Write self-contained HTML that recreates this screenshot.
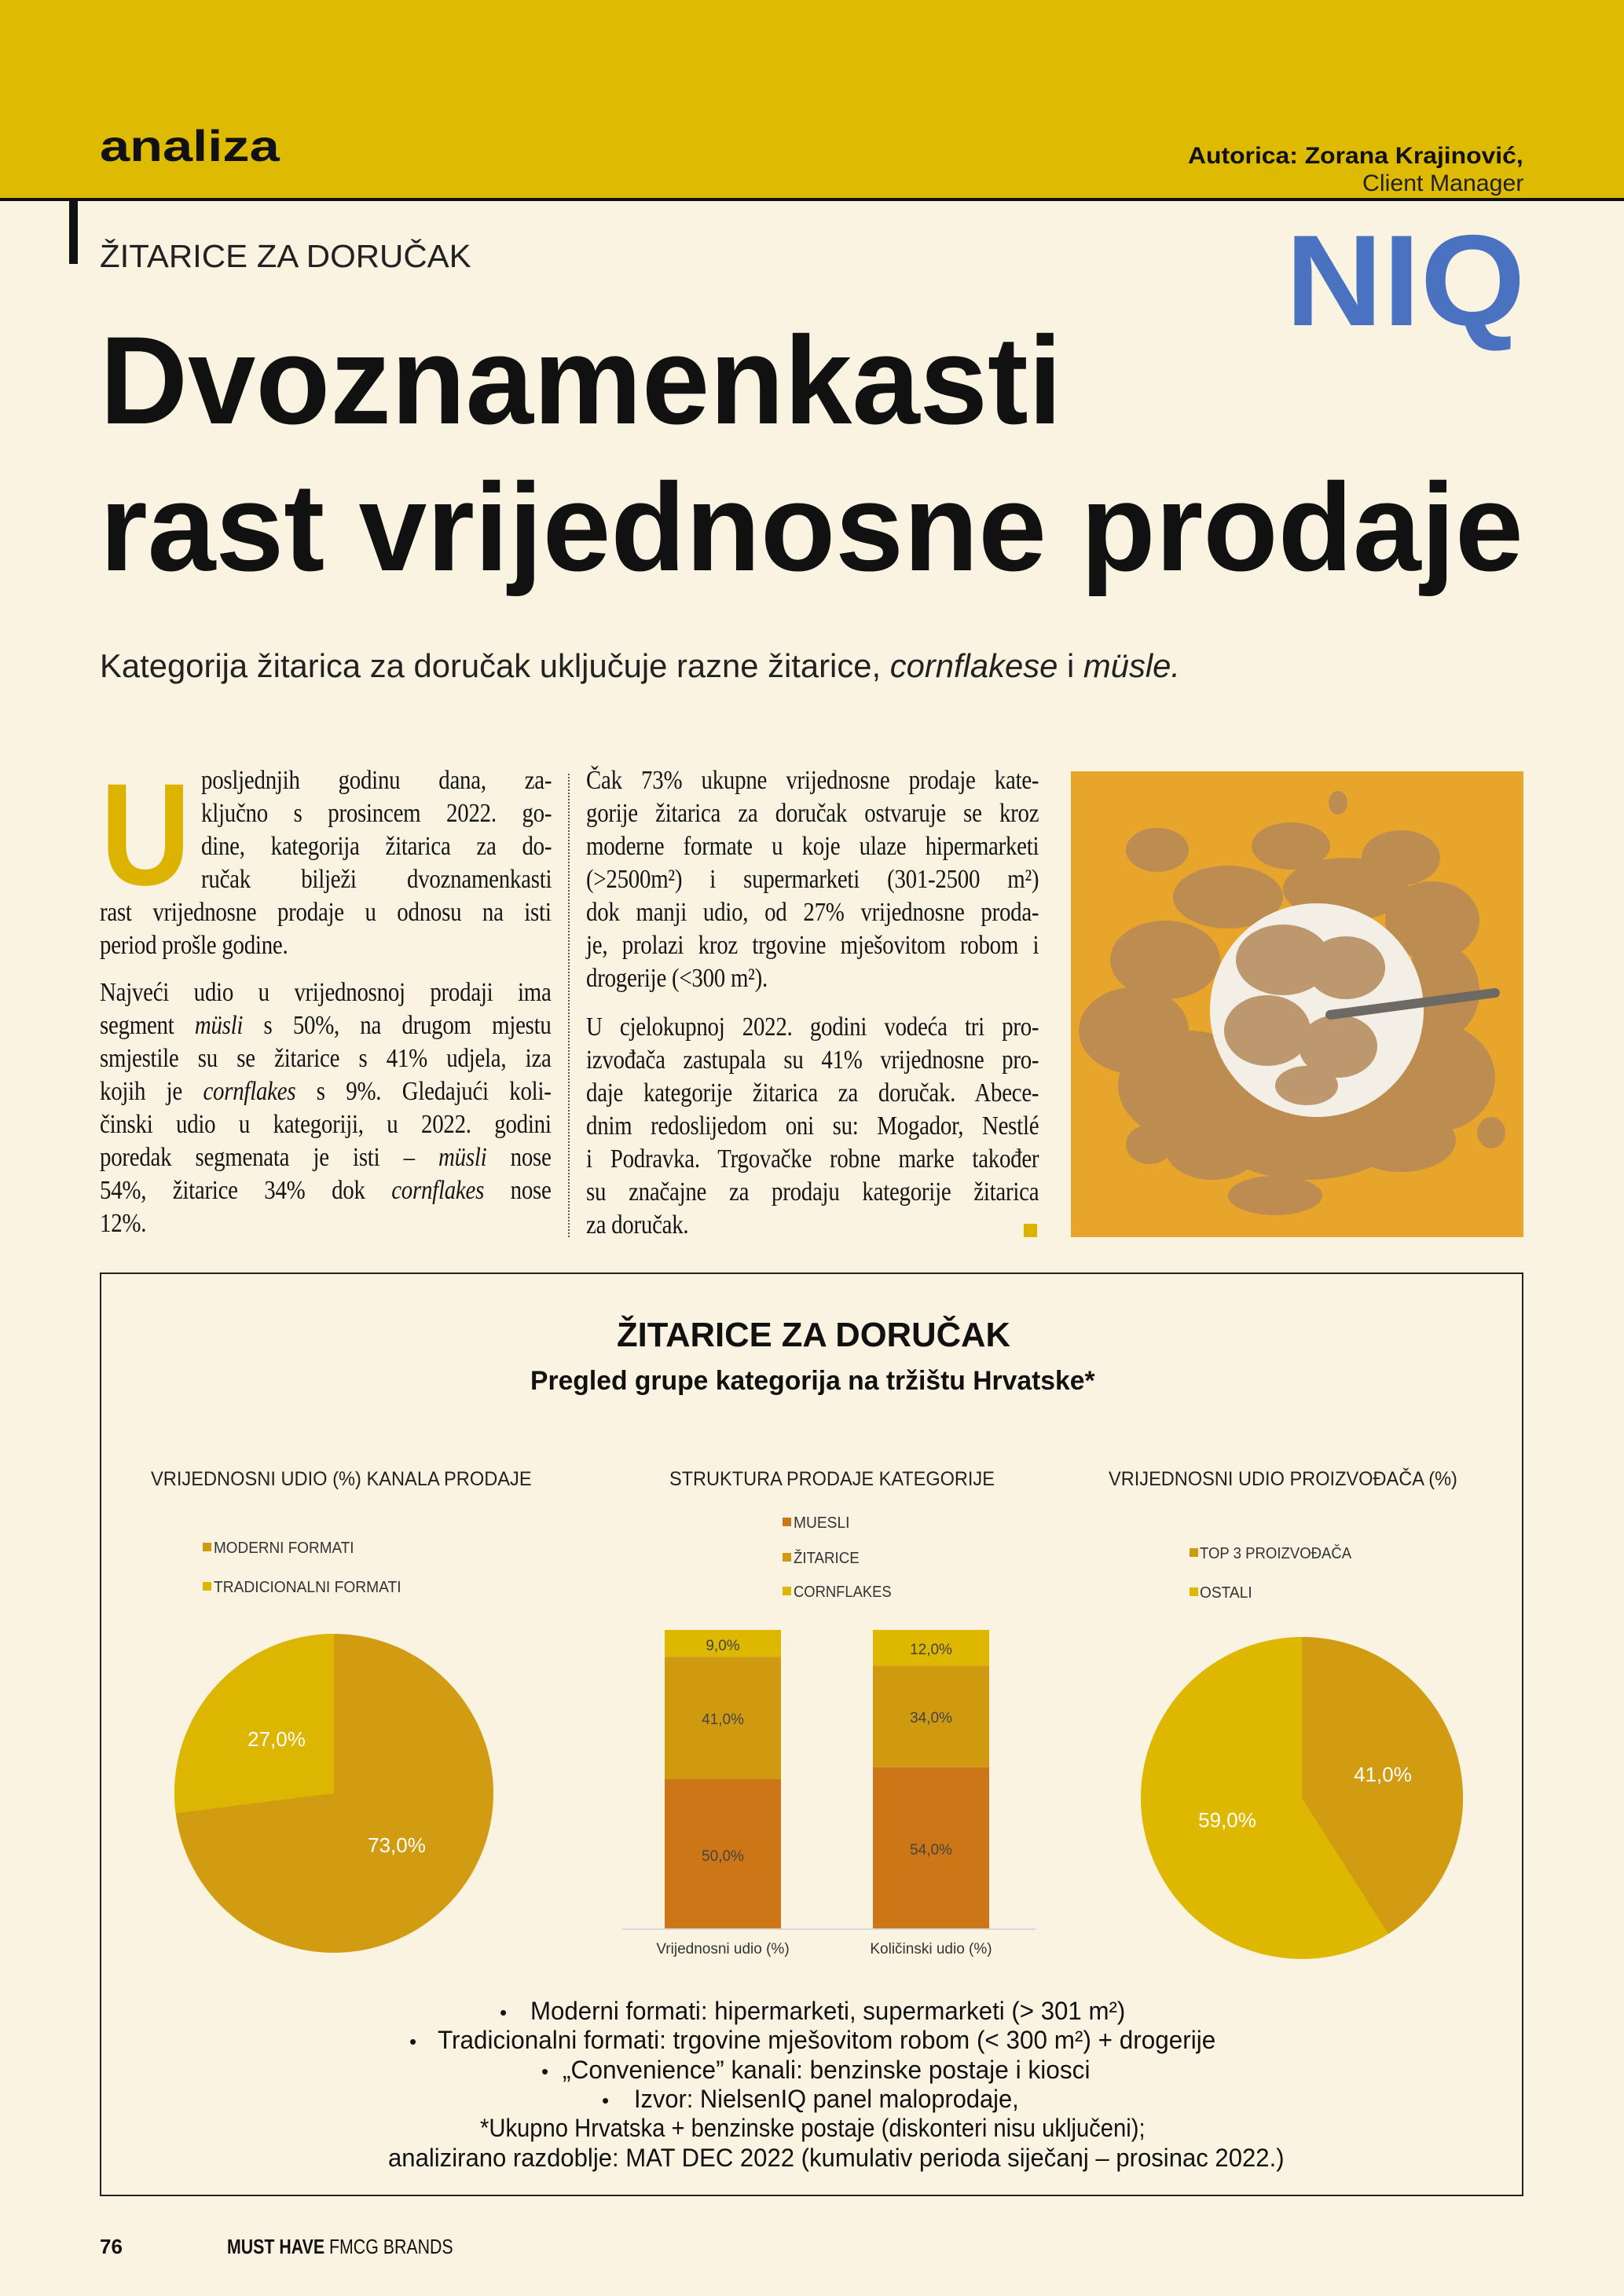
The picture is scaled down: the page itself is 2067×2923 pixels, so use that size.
<!DOCTYPE html>
<html><head><meta charset="utf-8">
<style>
html,body{margin:0;padding:0}
body{width:2067px;height:2923px;background:#faf3e2;position:relative;overflow:hidden;font-family:"Liberation Sans",sans-serif;color:#111}
.t{position:absolute;white-space:nowrap;line-height:1;transform-origin:0 0}
.ln{position:absolute;height:42px;line-height:42px;font-family:"Liberation Serif",serif;font-size:34px;letter-spacing:-0.3px;text-align:justify;text-align-last:justify;white-space:normal;color:#151515;transform:scaleX(0.85);transform-origin:0 0}
.last{text-align-last:left}
.sq{position:absolute;width:11px;height:11px}
</style></head><body>
<div style="position:absolute;left:0;top:0;width:2067px;height:252px;background:#dfba02"></div>
<div style="position:absolute;left:0;top:252px;width:2067px;height:4px;background:#111"></div>
<div style="position:absolute;left:88px;top:256px;width:11px;height:80px;background:#111"></div>

<div class="t" fw="229" style="left:127px;top:158px;font-size:56px;font-weight:bold">analiza</div>
<div class="t" fw="427" style="left:1512px;top:184px;font-size:30px;font-weight:bold">Autorica: Zorana Krajinović,</div>
<div class="t" fw="205" style="left:1734px;top:219px;font-size:30px;color:#222">Client Manager</div>
<div class="t" fw="473" style="left:127px;top:306px;font-size:41px;color:#222">ŽITARICE ZA DORUČAK</div>
<div class="t" fw="305" style="left:1636px;top:275px;font-size:165px;font-weight:bold;color:#4a72c0">NIQ</div>

<div class="t" fw="1225" style="left:127px;top:405px;font-size:159px;font-weight:bold;font-family:'Liberation Sans Narrow','Liberation Sans',sans-serif">Dvoznamenkasti</div>
<div class="t" fw="1812" style="left:127px;top:592px;font-size:159px;font-weight:bold;font-family:'Liberation Sans Narrow','Liberation Sans',sans-serif">rast vrijednosne prodaje</div>
<div class="t" fw="1375" style="left:127px;top:827px;font-size:42px;color:#222">Kategorija žitarica za doručak uključuje razne žitarice, <i>cornflakese</i> i <i>müsle.</i></div>

<div class="t" fw="115" style="left:128px;top:971px;font-size:185px;font-weight:bold;color:#dcb400">U</div>

<!-- col 1 -->
<div class="ln" style="left:256px;width:525px;top:973px">posljednjih godinu dana, za-</div>
<div class="ln" style="left:256px;width:525px;top:1015px">ključno s prosincem 2022. go-</div>
<div class="ln" style="left:256px;width:525px;top:1057px">dine, kategorija žitarica za do-</div>
<div class="ln" style="left:256px;width:525px;top:1099px">ručak bilježi dvoznamenkasti</div>
<div class="ln" style="left:127px;width:676px;top:1141px">rast vrijednosne prodaje u odnosu na isti</div>
<div class="ln last" style="left:127px;width:676px;top:1183px">period prošle godine.</div>
<div class="ln" style="left:127px;width:676px;top:1243px">Najveći udio u vrijednosnoj prodaji ima</div>
<div class="ln" style="left:127px;width:676px;top:1285px">segment <i>müsli</i> s 50%, na drugom mjestu</div>
<div class="ln" style="left:127px;width:676px;top:1327px">smjestile su se žitarice s 41% udjela, iza</div>
<div class="ln" style="left:127px;width:676px;top:1369px">kojih je <i>cornflakes</i> s 9%. Gledajući koli-</div>
<div class="ln" style="left:127px;width:676px;top:1411px">činski udio u kategoriji, u 2022. godini</div>
<div class="ln" style="left:127px;width:676px;top:1453px">poredak segmenata je isti – <i>müsli</i> nose</div>
<div class="ln" style="left:127px;width:676px;top:1495px">54%, žitarice 34% dok <i>cornflakes</i> nose</div>
<div class="ln last" style="left:127px;width:676px;top:1537px">12%.</div>

<div style="position:absolute;left:723px;top:985px;height:590px;border-left:2px dotted #555"></div>

<!-- col 2 -->
<div class="ln" style="left:746px;width:678px;top:973px">Čak 73% ukupne vrijednosne prodaje kate-</div>
<div class="ln" style="left:746px;width:678px;top:1015px">gorije žitarica za doručak ostvaruje se kroz</div>
<div class="ln" style="left:746px;width:678px;top:1057px">moderne formate u koje ulaze hipermarketi</div>
<div class="ln" style="left:746px;width:678px;top:1099px">(&gt;2500m²) i supermarketi (301-2500 m²)</div>
<div class="ln" style="left:746px;width:678px;top:1141px">dok manji udio, od 27% vrijednosne proda-</div>
<div class="ln" style="left:746px;width:678px;top:1183px">je, prolazi kroz trgovine mješovitom robom i</div>
<div class="ln last" style="left:746px;width:678px;top:1225px">drogerije (&lt;300 m²).</div>
<div class="ln" style="left:746px;width:678px;top:1287px">U cjelokupnoj 2022. godini vodeća tri pro-</div>
<div class="ln" style="left:746px;width:678px;top:1329px">izvođača zastupala su 41% vrijednosne pro-</div>
<div class="ln" style="left:746px;width:678px;top:1371px">daje kategorije žitarica za doručak. Abece-</div>
<div class="ln" style="left:746px;width:678px;top:1413px">dnim redoslijedom oni su: Mogador, Nestlé</div>
<div class="ln" style="left:746px;width:678px;top:1455px">i Podravka. Trgovačke robne marke također</div>
<div class="ln" style="left:746px;width:678px;top:1497px">su značajne za prodaju kategorije žitarica</div>
<div class="ln last" style="left:746px;width:678px;top:1539px">za doručak.</div>
<div style="position:absolute;left:1303px;top:1558px;width:17px;height:17px;background:#dcb400"></div>

<svg style="position:absolute;left:1363px;top:982px" width="576" height="593" viewBox="0 0 576 593">
<rect width="576" height="593" fill="#e8a52c"/>
<g fill="#b98a55" opacity="0.9">
<ellipse cx="110" cy="100" rx="40" ry="28"/><ellipse cx="280" cy="95" rx="50" ry="30"/><ellipse cx="420" cy="110" rx="50" ry="35"/>
<ellipse cx="200" cy="160" rx="70" ry="40"/><ellipse cx="350" cy="150" rx="80" ry="40"/><ellipse cx="460" cy="190" rx="60" ry="50"/>
<ellipse cx="120" cy="240" rx="70" ry="50"/><ellipse cx="470" cy="280" rx="50" ry="60"/><ellipse cx="80" cy="330" rx="70" ry="55"/>
<ellipse cx="150" cy="400" rx="90" ry="70"/><ellipse cx="460" cy="390" rx="80" ry="70"/><ellipse cx="300" cy="460" rx="120" ry="60"/>
<ellipse cx="180" cy="480" rx="60" ry="40"/><ellipse cx="420" cy="470" rx="70" ry="40"/><ellipse cx="100" cy="475" rx="30" ry="25"/>
<ellipse cx="535" cy="460" rx="18" ry="20"/><ellipse cx="260" cy="540" rx="60" ry="25"/><ellipse cx="340" cy="40" rx="12" ry="15"/>
</g>
<circle cx="313" cy="304" r="136" fill="#f4efe6"/>
<g fill="#b48858" opacity="0.85">
<ellipse cx="270" cy="240" rx="60" ry="45"/><ellipse cx="350" cy="250" rx="50" ry="40"/><ellipse cx="250" cy="330" rx="55" ry="45"/>
<ellipse cx="340" cy="350" rx="50" ry="40"/><ellipse cx="300" cy="400" rx="40" ry="25"/>
</g>
<line x1="330" y1="310" x2="540" y2="282" stroke="#6d6a66" stroke-width="12" stroke-linecap="round"/>
</svg>

<div style="position:absolute;left:127px;top:1620px;width:1808px;height:1172px;border:2px solid #222"></div>
<div class="t" fw="501" style="left:785px;top:1678px;font-size:44px;font-weight:bold">ŽITARICE ZA DORUČAK</div>
<div class="t" fw="719" style="left:675px;top:1741px;font-size:34px;font-weight:bold;font-family:'Liberation Sans Narrow','Liberation Sans',sans-serif">Pregled grupe kategorija na tržištu Hrvatske*</div>

<div class="t" fw="485" style="left:192px;top:1871px;font-size:25px;color:#222">VRIJEDNOSNI UDIO (%) KANALA PRODAJE</div>
<div class="t" fw="414" style="left:852px;top:1871px;font-size:25px;color:#222">STRUKTURA PRODAJE KATEGORIJE</div>
<div class="t" fw="444" style="left:1411px;top:1871px;font-size:25px;color:#222">VRIJEDNOSNI UDIO PROIZVOĐAČA (%)</div>

<div class="sq" style="left:258px;top:1964px;background:#d09a10"></div>
<div class="t" fw="179" style="left:272px;top:1961px;font-size:20px;color:#333">MODERNI FORMATI</div>
<div class="sq" style="left:258px;top:2014px;background:#dcb600"></div>
<div class="t" fw="239" style="left:272px;top:2011px;font-size:20px;color:#333">TRADICIONALNI FORMATI</div>

<div class="sq" style="left:996px;top:1932px;background:#cc7618"></div>
<div class="t" fw="71" style="left:1010px;top:1929px;font-size:20px;color:#333">MUESLI</div>
<div class="sq" style="left:996px;top:1977px;background:#d09a10"></div>
<div class="t" fw="84" style="left:1010px;top:1974px;font-size:20px;color:#333">ŽITARICE</div>
<div class="sq" style="left:996px;top:2020px;background:#ddb700"></div>
<div class="t" fw="125" style="left:1010px;top:2017px;font-size:20px;color:#333">CORNFLAKES</div>

<div class="sq" style="left:1514px;top:1971px;background:#d09a10"></div>
<div class="t" fw="193" style="left:1527px;top:1968px;font-size:20px;color:#333">TOP 3 PROIZVOĐAČA</div>
<div class="sq" style="left:1514px;top:2021px;background:#ddb700"></div>
<div class="t" fw="67" style="left:1527px;top:2018px;font-size:20px;color:#333">OSTALI</div>

<svg style="position:absolute;left:0;top:0" width="2067" height="2923">
<circle cx="425" cy="2283" r="203" fill="#d19c12"/>
<path d="M425,2283 L425,2080 A203,203 0 0 0 223.6,2308.4 Z" fill="#dcb600"/>
<circle cx="1657" cy="2289" r="205" fill="#ddb700"/>
<path d="M1657,2289 L1657,2084 A205,205 0 0 1 1767,2462 Z" fill="#d19c12"/>
<rect x="846" y="2075" width="148" height="34.2" fill="#ddb700"/>
<rect x="846" y="2109.2" width="148" height="155.8" fill="#d09a10"/>
<rect x="846" y="2265" width="148" height="190" fill="#cc7618"/>
<rect x="1111" y="2075" width="148" height="45.6" fill="#ddb700"/>
<rect x="1111" y="2120.6" width="148" height="129.2" fill="#d09a10"/>
<rect x="1111" y="2249.8" width="148" height="205.2" fill="#cc7618"/>
<line x1="792" y1="2456" x2="1318" y2="2456" stroke="#d8d8d8" stroke-width="2"/>
<g font-family="Liberation Sans, sans-serif" fill="#fff" font-size="26" text-anchor="middle">
<text x="352" y="2223">27,0%</text><text x="505" y="2358">73,0%</text>
<text x="1760" y="2268">41,0%</text><text x="1562" y="2326">59,0%</text>
</g>
<g font-family="Liberation Sans, sans-serif" fill="#444" font-size="19" text-anchor="middle">
<text x="920" y="2101">9,0%</text><text x="920" y="2195">41,0%</text><text x="920" y="2369">50,0%</text>
<text x="1185" y="2106">12,0%</text><text x="1185" y="2193">34,0%</text><text x="1185" y="2361">54,0%</text>
<text x="920" y="2487" fill="#333">Vrijednosni udio (%)</text><text x="1185" y="2487" fill="#333">Količinski udio (%)</text>
</g>
<g font-family="Liberation Sans, sans-serif" fill="#111" font-size="26">
<text x="636" y="2571">•</text><text x="521" y="2608">•</text><text x="689" y="2646">•</text><text x="766" y="2683">•</text>
</g>
</svg>

<div class="t" fw="757" style="left:675px;top:2544px;font-size:32px">Moderni formati: hipermarketi, supermarketi (&gt; 301 m²)</div>
<div class="t" fw="990" style="left:557px;top:2581px;font-size:32px">Tradicionalni formati: trgovine mješovitom robom (&lt; 300 m²) + drogerije</div>
<div class="t" fw="671" style="left:716px;top:2619px;font-size:32px">„Convenience” kanali: benzinske postaje i kiosci</div>
<div class="t" fw="490" style="left:807px;top:2656px;font-size:32px">Izvor: NielsenIQ panel maloprodaje,</div>
<div class="t" fw="847" style="left:611px;top:2693px;font-size:32px">*Ukupno Hrvatska + benzinske postaje (diskonteri nisu uključeni);</div>
<div class="t" fw="1141" style="left:494px;top:2731px;font-size:32px">analizirano razdoblje: MAT DEC 2022 (kumulativ perioda siječanj – prosinac 2022.)</div>

<div class="t" style="left:127px;top:2847px;font-size:26px;font-weight:bold">76</div>
<div class="t" fw="288" style="left:289px;top:2847px;font-size:26px"><b>MUST HAVE</b> FMCG BRANDS</div>

<script>
document.querySelectorAll('[fw]').forEach(function(e){
  var w=parseFloat(e.getAttribute('fw'));var o=e.offsetWidth;
  if(o>0){e.style.transform='scaleX('+(w/o)+')';}
});
</script>
</body></html>
